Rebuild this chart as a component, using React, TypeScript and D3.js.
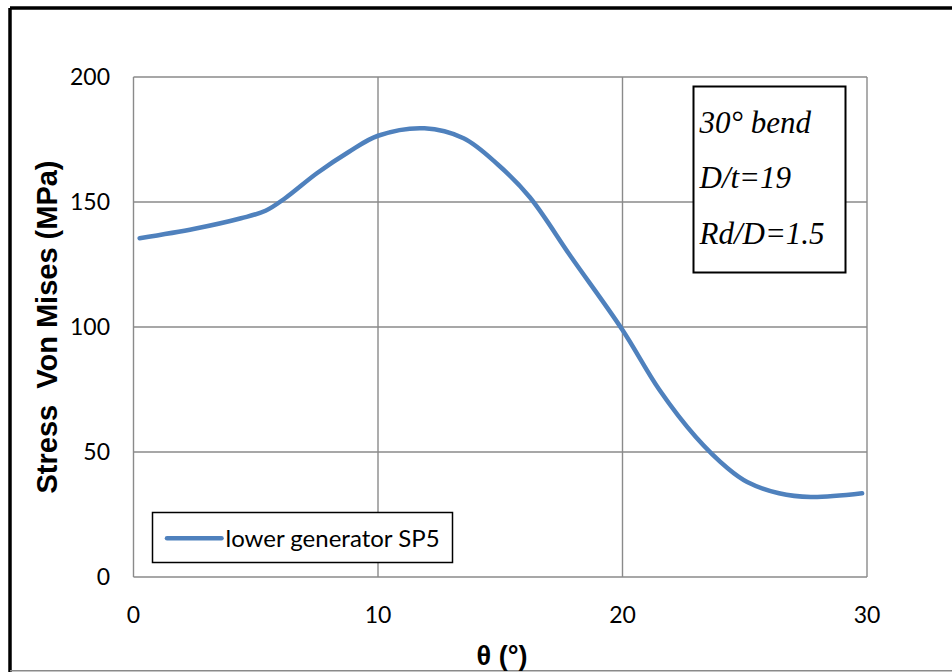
import React from "react";
import * as d3 from "d3";

const thetaValues = [0.25, 2.5, 4.4, 5.4, 6.2, 7.5, 8.8, 10, 11.9, 13.5, 14.9, 16.2, 17.9, 20, 21.5, 23, 24.3, 25.1, 26.4, 27.7, 29.8];
const stressValues = [135.5, 139.3, 143.5, 146.5, 151.5, 161.5, 170, 176.5, 179.5, 175.5, 165, 152, 128, 98.8, 75, 56, 43.5, 38, 33.5, 32, 33.5];
const xTicks = [0, 10, 20, 30];
const yTicks = [0, 50, 100, 150, 200];
const seriesName = "lower generator SP5";
const annotationLines = ["30° bend", "D/t=19", "Rd/D=1.5"];
const xTitle = "θ (°)";
const yTitle = "Stress  Von Mises (MPa)";

const W = 952;
const H = 672;
const plot = { left: 133.5, right: 867, top: 77, bottom: 577 };

export default function App() {
  const x = d3.scaleLinear().domain([0, 30]).range([plot.left, plot.right]);
  const y = d3.scaleLinear().domain([0, 200]).range([plot.bottom, plot.top]);
  const data = thetaValues.map((t, i) => [t, stressValues[i]] as [number, number]);
  const line = d3
    .line<[number, number]>()
    .x((d) => x(d[0]))
    .y((d) => y(d[1]))
    .curve(d3.curveCatmullRom.alpha(0.5));
  const grid = "#8a8a8a";
  const tickFont = "Lato, 'Open Sans', sans-serif";
  const blue = "#4F81BD";

  return (
    <svg
      width={W}
      height={H}
      style={{ position: "absolute", left: 0, top: 0, background: "#fff" }}
    >
      <rect x={0} y={0} width={W} height={H} fill="#fff" />
      {/* outer frame */}
      <line x1={10} y1={8} x2={W} y2={8} stroke="#000" strokeWidth={3.5} />
      <line x1={10} y1={8} x2={10} y2={H} stroke="#000" strokeWidth={3.5} />
      <line x1={10} y1={670.8} x2={W} y2={670.8} stroke="#8a8a8a" strokeWidth={1.5} />

      {/* gridlines */}
      {yTicks.map((t) => (
        <line key={"gy" + t} x1={plot.left} x2={plot.right} y1={y(t)} y2={y(t)} stroke={grid} strokeWidth={1.4} />
      ))}
      {xTicks.map((t) => (
        <line key={"gx" + t} x1={x(t)} x2={x(t)} y1={plot.top} y2={plot.bottom} stroke={grid} strokeWidth={1.4} />
      ))}

      {/* tick labels */}
      {yTicks.map((t) => (
        <text key={"ty" + t} x={110} y={y(t)} dy="0.36em" textAnchor="end" fontFamily={tickFont} fontSize={23} fill="#000">
          {t}
        </text>
      ))}
      {xTicks.map((t) => (
        <text key={"tx" + t} x={x(t)} y={615} dy="0.36em" textAnchor="middle" fontFamily={tickFont} fontSize={23} fill="#000">
          {t}
        </text>
      ))}

      {/* data line */}
      <path d={line(data) || ""} fill="none" stroke={blue} strokeWidth={4.5} strokeLinecap="round" strokeLinejoin="round" />

      {/* annotation box */}
      <rect x={693.5} y={86.5} width={152} height={186} fill="#fff" stroke="#000" strokeWidth={2} />
      {annotationLines.map((s, i) => (
        <text key={s} x={699.5} y={133 + i * 55.3} fontFamily="'Liberation Serif', 'Times New Roman', serif" fontStyle="italic" fontSize={31} fill="#000">
          {s}
        </text>
      ))}

      {/* legend */}
      <rect x={152.5} y={512.5} width={300} height={50} fill="#fff" stroke="#000" strokeWidth={1.5} />
      <line x1={167} x2={221.5} y1={538.3} y2={538.3} stroke={blue} strokeWidth={4.5} strokeLinecap="round" />
      <text x={225.5} y={547.3} fontFamily={tickFont} fontSize={24} fill="#000">
        {seriesName}
      </text>

      {/* axis titles */}
      <text x={502} y={665} textAnchor="middle" fontFamily="'Liberation Sans', Arial, sans-serif" fontWeight="bold" fontSize={27} fill="#000">
        {xTitle}
      </text>
      <text
        transform={`translate(57, 327) rotate(-90)`}
        textAnchor="middle"
        fontFamily="'Liberation Sans', Arial, sans-serif"
        fontWeight="bold"
        fontSize={29}
        fill="#000"
        style={{ whiteSpace: "pre" }}
      >
        {yTitle}
      </text>
    </svg>
  );
}
